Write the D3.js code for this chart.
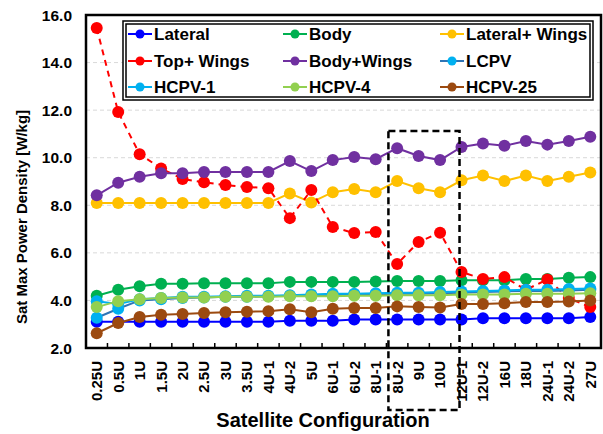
<!DOCTYPE html>
<html>
<head>
<meta charset="utf-8">
<script src="https://cdnjs.cloudflare.com/ajax/libs/d3/7.8.5/d3.min.js"></script>
<style>
  body { margin: 0; background: #fff; }
  text { font-family: Arial, "Liberation Sans", sans-serif; font-weight: bold; }
</style>
</head>
<body>
<div id="chart"></div>
<script>
var categories = ['0.25U','0.5U','1U','1.5U','2U','2.5U','3U','3.5U','4U-1','4U-2','5U','6U-1',
  '6U-2','8U-1','8U-2','9U','10U','12U-1','12U-2','16U','18U','24U-1','24U-2','27U'];

var lateral      = [3.1,3.1,3.1,3.1,3.1,3.1,3.1,3.1,3.1,3.15,3.15,3.15,3.2,3.2,3.2,3.2,3.2,3.2,3.25,3.25,3.25,3.25,3.25,3.3];
var body         = [4.2,4.45,4.6,4.7,4.7,4.72,4.72,4.72,4.72,4.78,4.78,4.78,4.78,4.8,4.82,4.82,4.82,4.85,4.85,4.85,4.9,4.9,4.95,4.98];
var lateralWings = [8.1,8.1,8.1,8.1,8.1,8.1,8.1,8.1,8.1,8.5,8.12,8.55,8.68,8.55,9.02,8.72,8.55,9.05,9.25,9.02,9.25,9.02,9.2,9.38];
var topWings     = [15.45,11.92,10.15,9.55,9.1,8.97,8.85,8.77,8.72,7.46,8.64,7.09,6.83,6.88,5.53,6.46,6.85,5.2,4.9,4.98,4.45,4.88,4.1,3.72];
var bodyWings    = [8.42,8.95,9.2,9.35,9.35,9.4,9.4,9.4,9.4,9.86,9.44,9.9,10.03,9.94,10.4,10.07,9.9,10.45,10.6,10.5,10.7,10.55,10.7,10.88];
var lcpv         = [3.27,3.65,4.0,4.05,4.1,4.12,4.15,4.15,4.18,4.2,4.2,4.22,4.25,4.25,4.28,4.28,4.3,4.32,4.35,4.38,4.4,4.4,4.42,4.45];
var hcpv1        = [3.97,3.85,4.05,4.1,4.15,4.15,4.18,4.2,4.2,4.22,4.25,4.28,4.28,4.3,4.32,4.32,4.35,4.38,4.4,4.42,4.45,4.45,4.48,4.5];
var hcpv4        = [3.72,3.97,4.05,4.1,4.12,4.12,4.15,4.15,4.15,4.18,4.18,4.18,4.2,4.2,4.22,4.22,4.22,4.25,4.25,4.25,4.28,4.28,4.28,4.3];
var hcpv25       = [2.62,3.05,3.3,3.4,3.43,3.47,3.5,3.52,3.55,3.63,3.5,3.65,3.68,3.68,3.75,3.72,3.7,3.85,3.85,3.88,3.93,3.93,3.95,4.0];

var seriesNames = ['Lateral','Body','Lateral+ Wings','Top+ Wings','Body+Wings','LCPV','HCPV-1','HCPV-4','HCPV-25'];
var seriesValues = [lateral, body, lateralWings, topWings, bodyWings, lcpv, hcpv1, hcpv4, hcpv25];
var markerColors = ['#0000FF','#00B050','#FFC000','#FF0000','#7030A0','#00B0F0','#00B0F0','#92D050','#9C4A10'];
var lineColors   = ['#0000FF','#00B050','#FFC000','#FF0000','#7030A0','#2E75B6','#00B0F0','#92D050','#9C4A10'];
var yTicks = [2,4,6,8,10,12,14,16];

var width = 603, height = 434;
var plotLeft = 86, plotRight = 601, plotTop = 15, plotBottom = 348;

var svg = d3.select('#chart').append('svg')
  .attr('width', width)
  .attr('height', height);

var x = d3.scaleBand().domain(categories).range([plotLeft, plotRight]).padding(0);
var y = d3.scaleLinear().domain([2, 16]).range([plotBottom, plotTop]);

// grid
svg.append('g')
  .selectAll('line')
  .data(yTicks.filter(function(d){ return d > 2 && d < 16; }))
  .enter().append('line')
  .attr('x1', plotLeft).attr('x2', plotRight)
  .attr('y1', function(d){ return y(d); })
  .attr('y2', function(d){ return y(d); })
  .attr('stroke', '#d9d9d9')
  .attr('stroke-width', 1)
  .attr('stroke-dasharray', '4,3');

// y tick labels
svg.append('g')
  .selectAll('text')
  .data(yTicks)
  .enter().append('text')
  .attr('x', 72)
  .attr('y', function(d){ return y(d); })
  .attr('dy', '0.36em')
  .attr('text-anchor', 'end')
  .style('font-size', '15.5px')
  .text(function(d){ return d.toFixed(1); });

// x axis labels
var xAxis = d3.axisBottom(x).tickSize(0).tickPadding(0);
var gx = svg.append('g')
  .attr('transform', 'translate(0,' + plotBottom + ')')
  .call(xAxis);
gx.select('.domain').remove();
gx.selectAll('.tick text')
  .attr('transform', 'rotate(-90)')
  .attr('text-anchor', 'end')
  .attr('x', -13)
  .attr('y', 0)
  .attr('dy', '0.36em')
  .attr('fill', '#000')
  .style('font-size', '15px')
  .style('font-family', 'Arial, "Liberation Sans", sans-serif')
  .style('font-weight', 'bold');

// tick marks between categories, pointing in
svg.append('g')
  .selectAll('line')
  .data(categories.slice(1))
  .enter().append('line')
  .attr('x1', function(d){ return x(d); })
  .attr('x2', function(d){ return x(d); })
  .attr('y1', plotBottom - 5)
  .attr('y2', plotBottom)
  .attr('stroke', '#000')
  .attr('stroke-width', 1.5);

// series
var line = d3.line()
  .x(function(d, i){ return x(categories[i]) + x.bandwidth() / 2; })
  .y(function(d){ return y(d); });

seriesValues.forEach(function(vals, s){
  var g = svg.append('g');
  g.append('path')
    .datum(vals)
    .attr('d', line)
    .attr('fill', 'none')
    .attr('stroke', lineColors[s])
    .attr('stroke-width', 2)
    .attr('stroke-dasharray', s === 3 ? '6,5' : null);
  g.selectAll('circle')
    .data(vals)
    .enter().append('circle')
    .attr('cx', function(d, i){ return x(categories[i]) + x.bandwidth() / 2; })
    .attr('cy', function(d){ return y(d); })
    .attr('r', 6)
    .attr('fill', markerColors[s]);
});

// plot frame
svg.append('rect')
  .attr('x', plotLeft).attr('y', plotTop)
  .attr('width', plotRight - plotLeft).attr('height', plotBottom - plotTop)
  .attr('fill', 'none')
  .attr('stroke', '#000')
  .attr('stroke-width', 2.5);

// highlight box around 8U-2 .. 10U
var boxL = x('8U-2') + 2, boxR = x('12U-1') + x.bandwidth() / 2 - 2;
svg.append('rect')
  .attr('x', boxL)
  .attr('y', 131)
  .attr('width', boxR - boxL)
  .attr('height', 410 - 131)
  .attr('fill', 'none')
  .attr('stroke', '#000')
  .attr('stroke-width', 2.5)
  .attr('stroke-dasharray', '7,4');

// legend
var legend = svg.append('g');
legend.append('rect')
  .attr('x', 123).attr('y', 21)
  .attr('width', 470).attr('height', 79)
  .attr('fill', '#fff')
  .attr('stroke', '#000')
  .attr('stroke-width', 1.5);
legend.append('rect')
  .attr('x', 126).attr('y', 24)
  .attr('width', 464).attr('height', 73)
  .attr('fill', 'none')
  .attr('stroke', '#000')
  .attr('stroke-width', 1.5);

var colX = [140, 295, 452];
var rowY = [34, 61, 87];
seriesNames.forEach(function(name, s){
  var cx = colX[s % 3], cy = rowY[Math.floor(s / 3)];
  var item = legend.append('g');
  item.append('line')
    .attr('x1', cx - 12).attr('x2', cx + 12)
    .attr('y1', cy).attr('y2', cy)
    .attr('stroke', lineColors[s])
    .attr('stroke-width', 2);
  item.append('circle')
    .attr('cx', cx).attr('cy', cy).attr('r', 4.5)
    .attr('fill', markerColors[s]);
  item.append('text')
    .attr('x', cx + 14).attr('y', cy)
    .attr('dy', '0.36em')
    .style('font-size', '17px')
    .text(name);
});

// axis titles
svg.append('text')
  .attr('x', 323).attr('y', 427)
  .attr('text-anchor', 'middle')
  .style('font-size', '20px')
  .text('Satellite Configuration');

svg.append('text')
  .attr('transform', 'translate(27,217) rotate(-90)')
  .attr('text-anchor', 'middle')
  .style('font-size', '15px')
  .text('Sat Max Power Density [W/kg]');
</script>
</body>
</html>
